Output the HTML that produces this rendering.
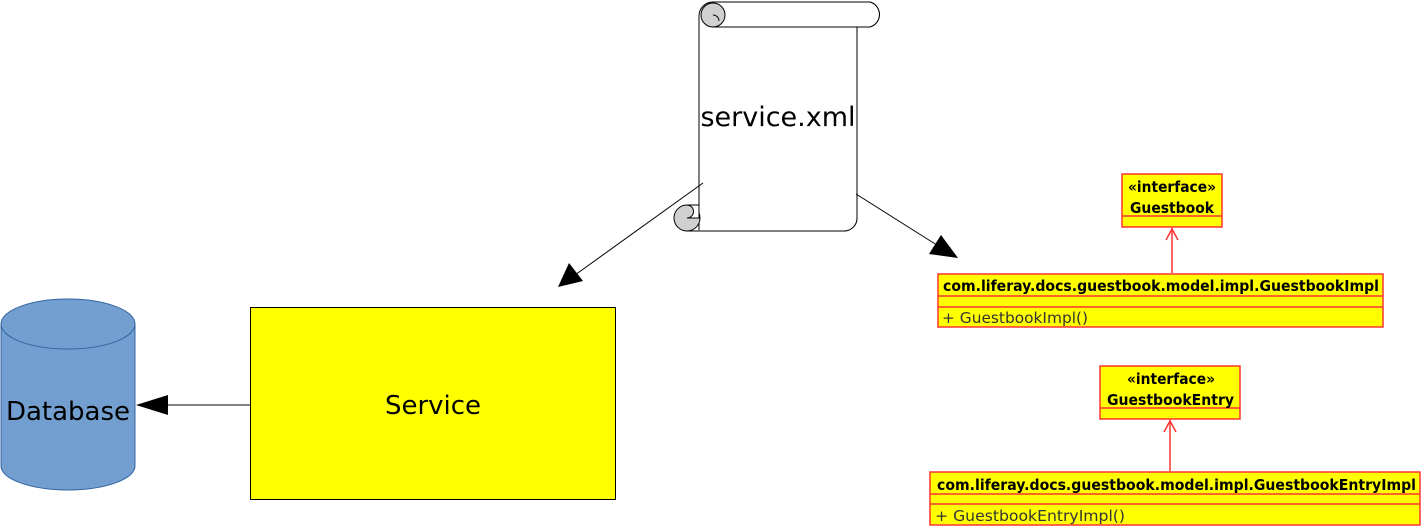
<!DOCTYPE html>
<html><head><meta charset="utf-8"><style>
html,body{margin:0;padding:0;background:#fff;}
svg{display:block;}
text{font-family:"DejaVu Sans","Liberation Sans",sans-serif;}
</style></head><body>
<svg width="1421" height="526" viewBox="0 0 1421 526" xmlns="http://www.w3.org/2000/svg">
<g stroke="#000" stroke-width="1" fill="#fff">
<path d="M699,16 A14,14 0 0 1 713,2 L870,2 A13,13 0 0 1 870,27 L857,27 L857,218 A13,13 0 0 1 844,231 L687,231 L699,231 Z"/>
<rect x="699" y="16" width="158" height="205" stroke="none"/>
<line x1="699" y1="16" x2="699" y2="205"/>
<line x1="857" y1="27" x2="857" y2="218"/>
<line x1="713" y1="27" x2="870" y2="27"/>
<path d="M870,2 A13,13 0 0 1 870,27"/>
<line x1="713" y1="2" x2="870" y2="2"/>
<path d="M857,218 A13,13 0 0 1 844,231 L687,231"/>
<circle cx="713" cy="15" r="12" fill="#d0d0d0"/>
<path d="M713,15 A6,6 0 0 1 719,21" fill="none"/>
<circle cx="687" cy="218" r="13" fill="#d0d0d0"/>
<path d="M687,218 L699,218 L699,205 L687,205 A6,6 0 0 1 687,218" fill="#fff"/>
</g>
<text x="778" y="126" font-size="27" text-anchor="middle" fill="#000">service.xml</text>
<line x1="703" y1="183" x2="575" y2="275" stroke="#000"/>
<polygon points="558,287 569,263 583,281" fill="#000"/>
<line x1="856" y1="194" x2="940" y2="247" stroke="#000"/>
<polygon points="958,258 929,254 941,235" fill="#000"/>
<rect x="250.5" y="307.5" width="365" height="192" fill="#ffff00" stroke="#000"/>
<text x="433" y="414" font-size="26" text-anchor="middle" fill="#000">Service</text>
<line x1="250" y1="405" x2="165" y2="405" stroke="#000"/>
<polygon points="136,405 168,395 168,415" fill="#000"/>
<path d="M1,324 L1,466 A67,24 0 0 0 135,466 L135,324" fill="#729fcf" stroke="#3465a4"/>
<ellipse cx="68" cy="324" rx="67" ry="25" fill="#729fcf" stroke="#3465a4"/>
<text x="68" y="420" font-size="26" text-anchor="middle" fill="#000">Database</text>
<g stroke="#ff3333" stroke-width="1.5" fill="#ffff00">
<rect x="1122" y="174" width="100" height="53"/>
<line x1="1122" y1="216" x2="1222" y2="216"/>
<rect x="938" y="274" width="445" height="53"/>
<line x1="938" y1="296" x2="1383" y2="296"/>
<line x1="938" y1="307" x2="1383" y2="307"/>
<rect x="1100" y="366" width="140" height="53"/>
<line x1="1100" y1="408" x2="1240" y2="408"/>
<rect x="930" y="472" width="490" height="53"/>
<line x1="930" y1="494" x2="1420" y2="494"/>
<line x1="930" y1="504" x2="1420" y2="504"/>
<line x1="1172" y1="228" x2="1172" y2="273" fill="none"/>
<path d="M1166,240 L1172,229 L1178,240" fill="none"/>
<line x1="1170" y1="420" x2="1170" y2="471" fill="none"/>
<path d="M1164,432 L1170,421 L1176,432" fill="none"/>
</g>
<g font-size="15" font-weight="bold" fill="#000" lengthAdjust="spacingAndGlyphs">
<text x="1128" y="192" textLength="88" lengthAdjust="spacingAndGlyphs">«interface»</text>
<text x="1130" y="213" textLength="84" lengthAdjust="spacingAndGlyphs">Guestbook</text>
<text x="943" y="291" textLength="436" lengthAdjust="spacingAndGlyphs">com.liferay.docs.guestbook.model.impl.GuestbookImpl</text>
<text x="1127" y="384" textLength="88" lengthAdjust="spacingAndGlyphs">«interface»</text>
<text x="1107" y="405" textLength="127" lengthAdjust="spacingAndGlyphs">GuestbookEntry</text>
<text x="937" y="490" textLength="479" lengthAdjust="spacingAndGlyphs">com.liferay.docs.guestbook.model.impl.GuestbookEntryImpl</text>
</g>
<g font-size="15" fill="#333">
<text x="942" y="323" textLength="146" lengthAdjust="spacingAndGlyphs">+ GuestbookImpl()</text>
<text x="935" y="521" textLength="190" lengthAdjust="spacingAndGlyphs">+ GuestbookEntryImpl()</text>
</g>
</svg>
</body></html>
